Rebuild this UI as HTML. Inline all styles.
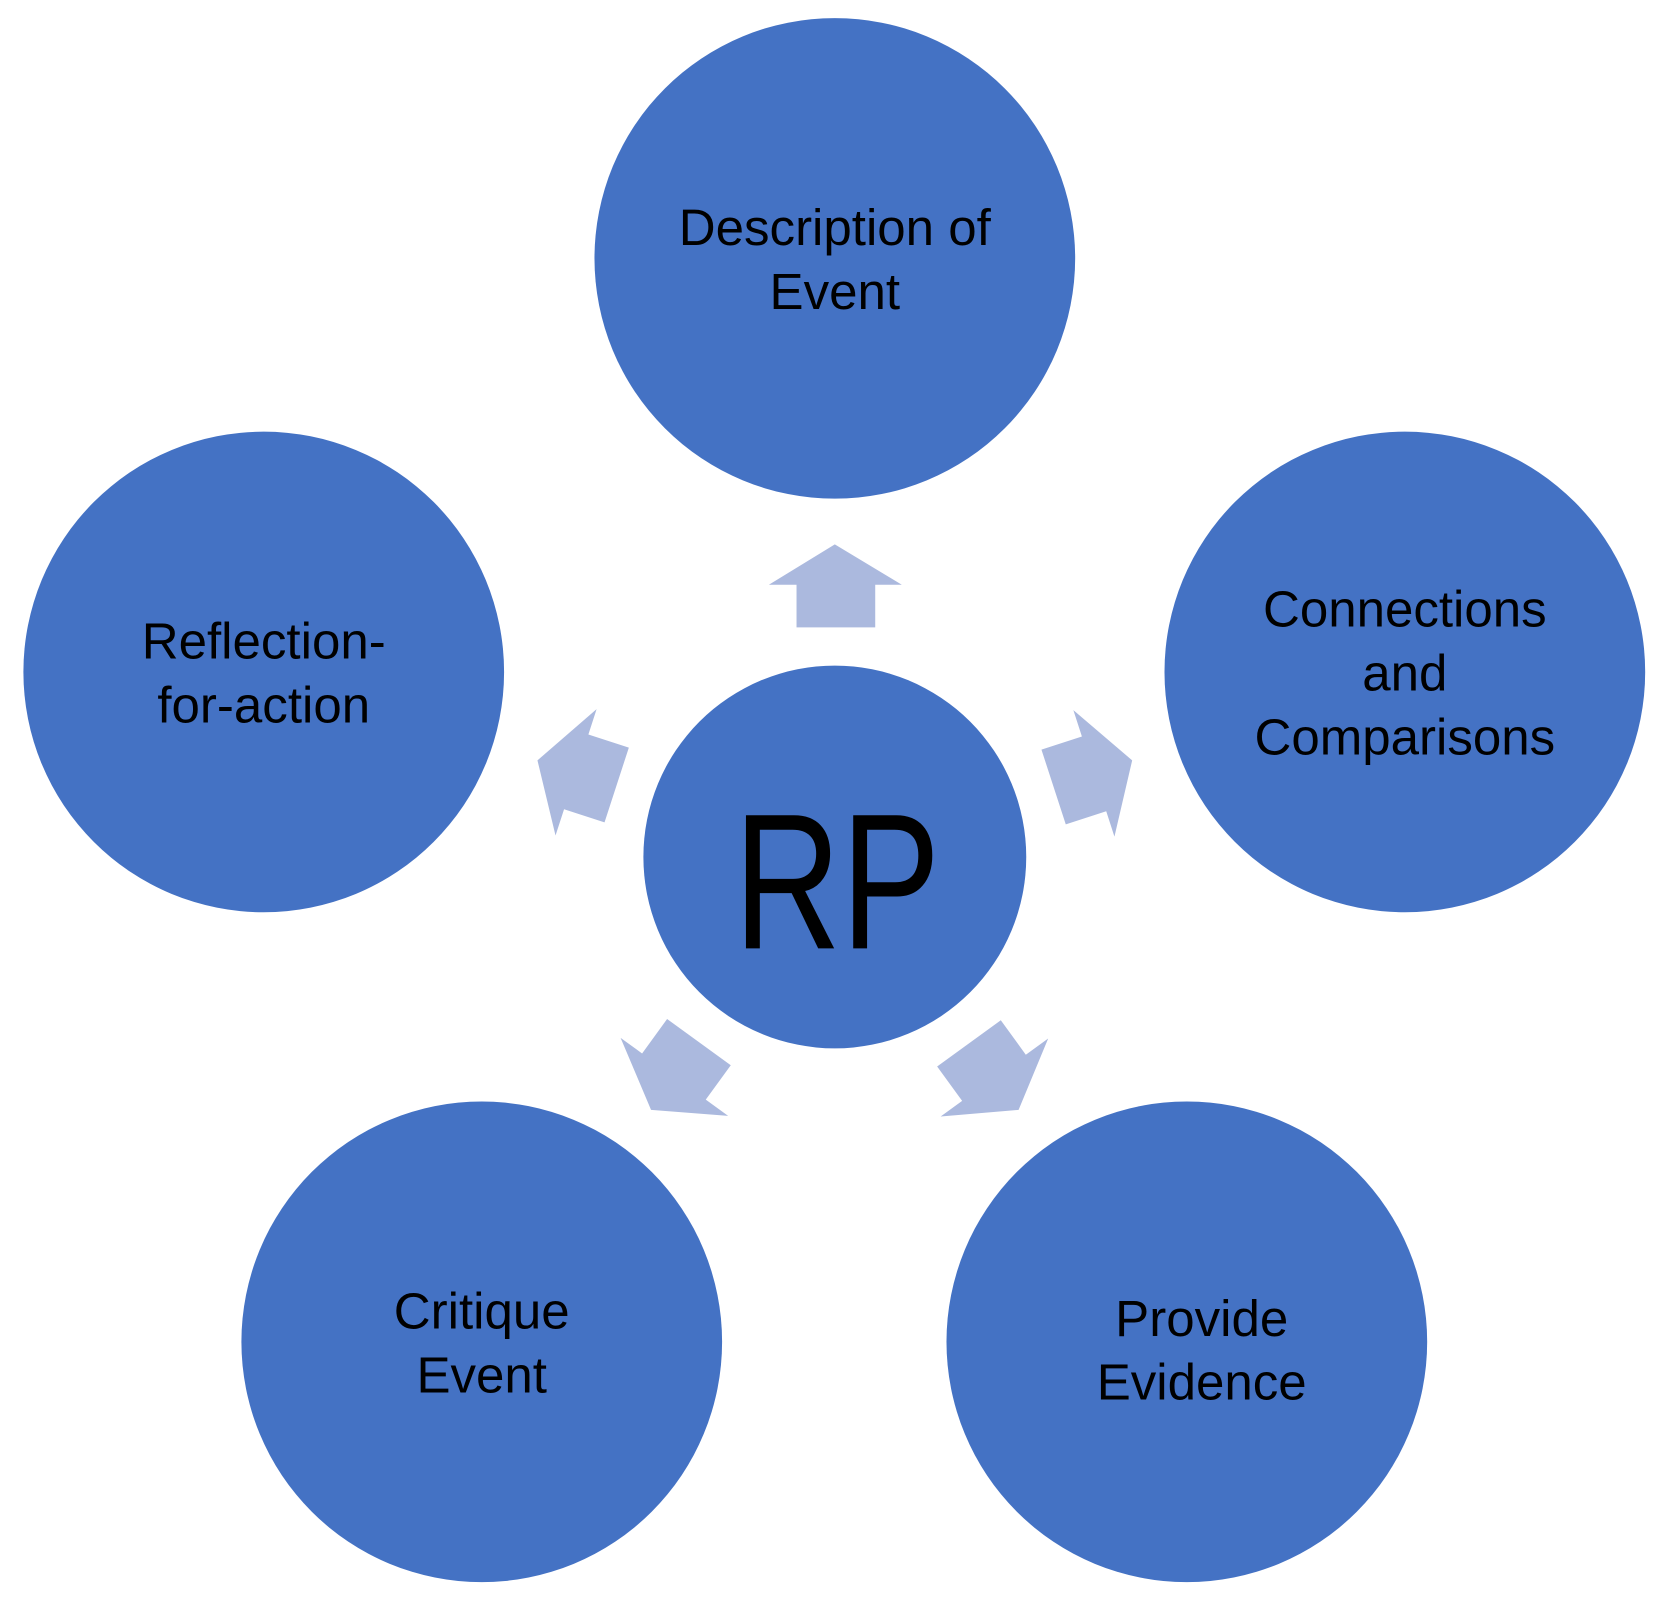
<!DOCTYPE html>
<html><head><style>html,body{margin:0;padding:0;background:#fff}</style></head><body>
<svg width="1659" height="1597" viewBox="0 0 1560 1502" preserveAspectRatio="none" xmlns="http://www.w3.org/2000/svg">
<g fill="#4472C4">
<circle cx="785" cy="243" r="226"/>
<circle cx="1321" cy="632" r="226"/>
<circle cx="248" cy="632" r="226"/>
<circle cx="453" cy="1262" r="226"/>
<circle cx="1116" cy="1262" r="226"/>
<circle cx="785" cy="806" r="180"/>
</g>
<g fill="#ABB9DE">
<polygon id="ar" points="785,512 848,550 823,550 823,590 749,590 749,550 723,550"/>
<use href="#ar" transform="rotate(72 785 806)"/>
<use href="#ar" transform="rotate(144 785 806)"/>
<use href="#ar" transform="rotate(216 785 806)"/>
<use href="#ar" transform="rotate(288 785 806)"/>
</g>
<g font-family="Liberation Sans, sans-serif" font-size="48" fill="#000" text-anchor="middle" dominant-baseline="central">
<text x="785" y="214">Description of</text>
<text x="785" y="274">Event</text>
<text x="1321" y="573">Connections</text>
<text x="1321" y="633">and</text>
<text x="1321" y="693">Comparisons</text>
<text x="248" y="603">Reflection-</text>
<text x="248" y="663">for-action</text>
<text x="453" y="1233">Critique</text>
<text x="453" y="1293">Event</text>
<text x="1130" y="1240">Provide</text>
<text x="1130" y="1300">Evidence</text>
</g>
<text x="787" y="892" font-family="Liberation Sans, sans-serif" font-size="182" fill="#000" text-anchor="middle" textLength="194" lengthAdjust="spacingAndGlyphs">RP</text>
</svg>
</body></html>
